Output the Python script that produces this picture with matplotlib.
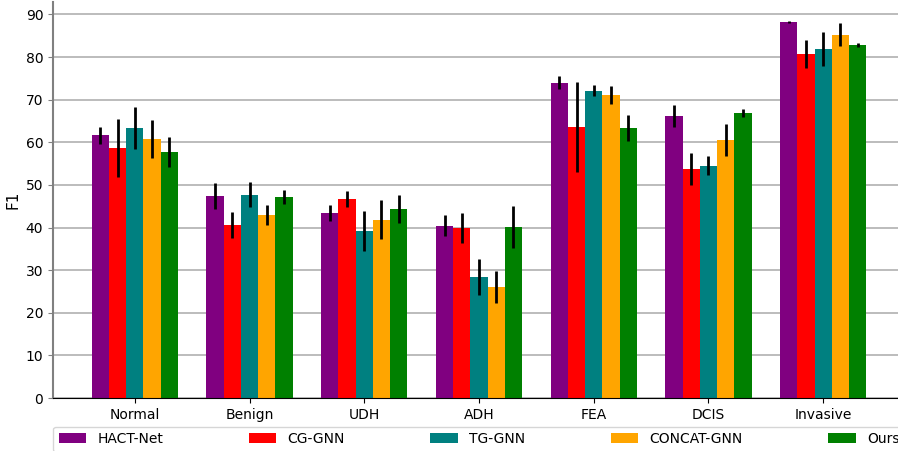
import numpy as np
import matplotlib
matplotlib.use("Agg")
import matplotlib.pyplot as plt

# F1 scores per class (mean and std over runs)
classes = ["Normal", "Benign", "UDH", "ADH", "FEA", "DCIS", "Invasive"]
methods = ["HACT-Net", "CG-GNN", "TG-GNN", "CONCAT-GNN", "Ours"]
colors = ["purple", "red", "teal", "orange", "green"]

hact_mean = [61.6, 47.4, 43.4, 40.4, 74.0, 66.2, 88.3]
hact_std = [2.1, 3.0, 1.8, 2.5, 1.5, 2.6, 0.2]
cg_mean = [58.7, 40.6, 46.7, 39.9, 63.6, 53.8, 80.8]
cg_std = [6.8, 3.0, 1.9, 3.6, 10.5, 3.8, 3.3]
tg_mean = [63.4, 47.7, 39.2, 28.4, 72.1, 54.5, 82.0]
tg_std = [4.9, 2.9, 4.7, 4.3, 1.3, 2.2, 4.0]
concat_mean = [60.8, 43.0, 41.8, 26.1, 71.2, 60.6, 85.2]
concat_std = [4.5, 2.3, 4.6, 3.8, 2.1, 3.8, 2.7]
ours_mean = [57.7, 47.2, 44.4, 40.2, 63.4, 66.9, 82.9]
ours_std = [3.6, 1.7, 3.3, 4.9, 3.1, 0.9, 0.5]

means = [hact_mean, cg_mean, tg_mean, concat_mean, ours_mean]
stds = [hact_std, cg_std, tg_std, concat_std, ours_std]

fig = plt.figure(figsize=(8.98, 4.51), dpi=100)
ax = fig.add_axes([53 / 898, 53 / 451, 852 / 898, 396 / 451])

x = np.arange(len(classes))
width = 0.15
for i, (name, color) in enumerate(zip(methods, colors)):
    ax.bar(
        x + (i - 2) * width,
        means[i],
        width,
        yerr=stds[i],
        color=color,
        label=name,
        error_kw={"elinewidth": 2, "ecolor": "black", "capsize": 0},
    )

ax.set_xticks(x)
ax.set_xticklabels(classes)
ax.set_ylabel("F1", fontsize=11)
ax.set_yticks(range(0, 100, 10))

ax.set_axisbelow(True)
ax.grid(axis="y", color="#b0b0b0", linewidth=1.2)
ax.spines["top"].set_visible(False)
ax.spines["right"].set_visible(False)
ax.spines["left"].set_color("#808080")
ax.spines["left"].set_linewidth(1.5)
ax.tick_params(axis="y", color="#808080")

ax.legend(
    loc="upper left",
    bbox_to_anchor=(0, -0.072, 1, 0.0),
    mode="expand",
    ncol=5,
    borderaxespad=0,
    fontsize=10,
)

fig.savefig("out.png", dpi=100)
